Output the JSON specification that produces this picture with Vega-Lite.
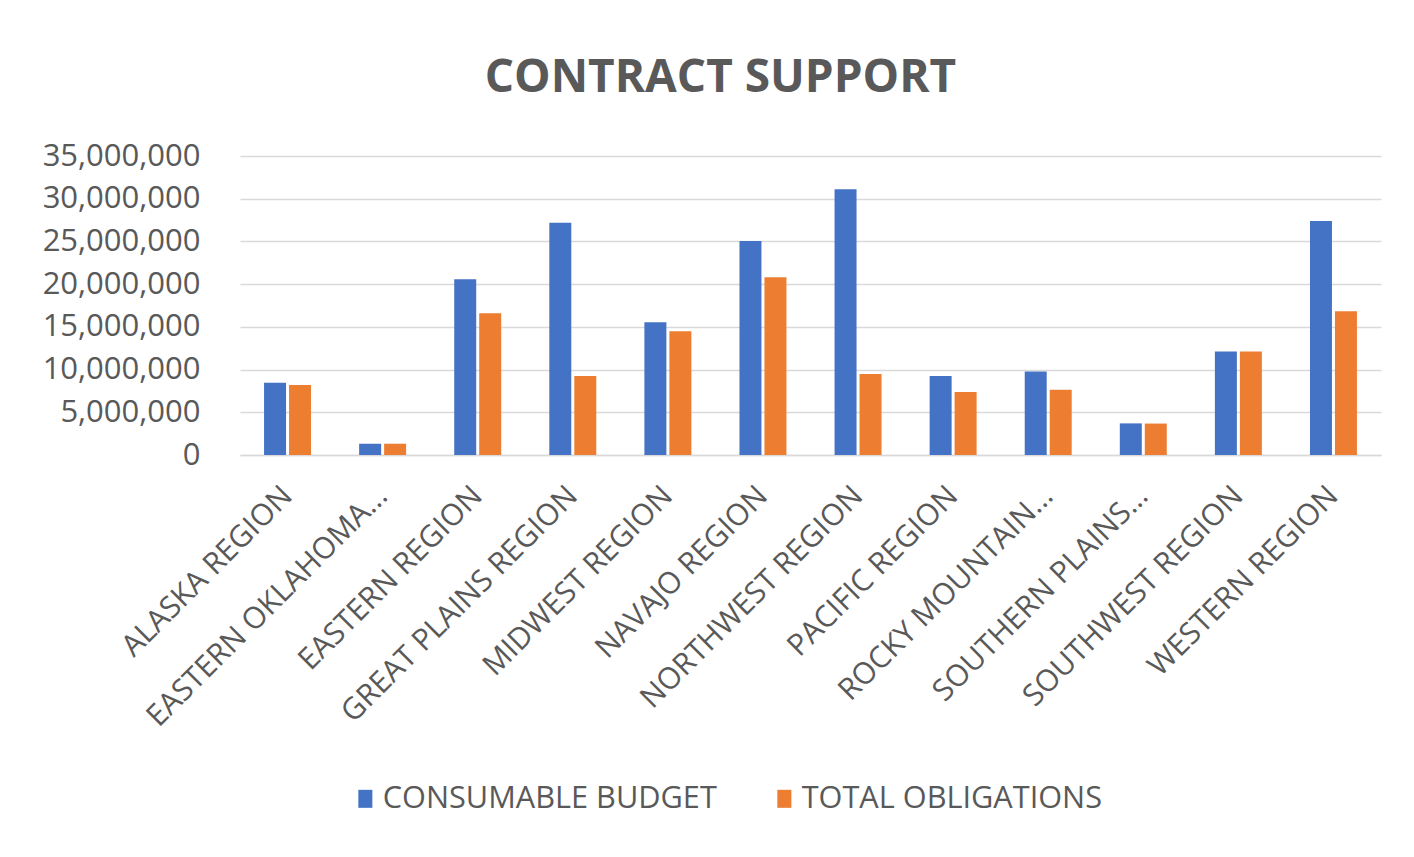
{
  "$schema": "https://vega.github.io/schema/vega-lite/v6.json",
  "width": 1141,
  "height": 299,
  "autosize": "none",
  "padding": {"left": 240, "top": 156, "right": 33, "bottom": 402},
  "background": "#ffffff",
  "title": {
    "text": "CONTRACT SUPPORT",
    "font": "Open Sans",
    "fontSize": 46,
    "fontWeight": "bold",
    "color": "#595959",
    "anchor": "middle",
    "frame": "group",
    "dx": -90,
    "baseline": "alphabetic",
    "offset": 2
  },
  "data": {
    "values": [
      {"region": "ALASKA REGION", "series": "CONSUMABLE BUDGET", "value": 8460000},
      {"region": "ALASKA REGION", "series": "TOTAL OBLIGATIONS", "value": 8180000},
      {"region": "EASTERN OKLAHOMA...", "series": "CONSUMABLE BUDGET", "value": 1330000},
      {"region": "EASTERN OKLAHOMA...", "series": "TOTAL OBLIGATIONS", "value": 1320000},
      {"region": "EASTERN REGION", "series": "CONSUMABLE BUDGET", "value": 20580000},
      {"region": "EASTERN REGION", "series": "TOTAL OBLIGATIONS", "value": 16600000},
      {"region": "GREAT PLAINS REGION", "series": "CONSUMABLE BUDGET", "value": 27200000},
      {"region": "GREAT PLAINS REGION", "series": "TOTAL OBLIGATIONS", "value": 9240000},
      {"region": "MIDWEST REGION", "series": "CONSUMABLE BUDGET", "value": 15550000},
      {"region": "MIDWEST REGION", "series": "TOTAL OBLIGATIONS", "value": 14500000},
      {"region": "NAVAJO REGION", "series": "CONSUMABLE BUDGET", "value": 25060000},
      {"region": "NAVAJO REGION", "series": "TOTAL OBLIGATIONS", "value": 20810000},
      {"region": "NORTHWEST REGION", "series": "CONSUMABLE BUDGET", "value": 31100000},
      {"region": "NORTHWEST REGION", "series": "TOTAL OBLIGATIONS", "value": 9470000},
      {"region": "PACIFIC REGION", "series": "CONSUMABLE BUDGET", "value": 9240000},
      {"region": "PACIFIC REGION", "series": "TOTAL OBLIGATIONS", "value": 7370000},
      {"region": "ROCKY MOUNTAIN...", "series": "CONSUMABLE BUDGET", "value": 9780000},
      {"region": "ROCKY MOUNTAIN...", "series": "TOTAL OBLIGATIONS", "value": 7640000},
      {"region": "SOUTHERN PLAINS...", "series": "CONSUMABLE BUDGET", "value": 3700000},
      {"region": "SOUTHERN PLAINS...", "series": "TOTAL OBLIGATIONS", "value": 3680000},
      {"region": "SOUTHWEST REGION", "series": "CONSUMABLE BUDGET", "value": 12120000},
      {"region": "SOUTHWEST REGION", "series": "TOTAL OBLIGATIONS", "value": 12110000},
      {"region": "WESTERN REGION", "series": "CONSUMABLE BUDGET", "value": 27400000},
      {"region": "WESTERN REGION", "series": "TOTAL OBLIGATIONS", "value": 16840000}
    ]
  },
  "mark": {"type": "bar"},
  "encoding": {
    "x": {
      "field": "region",
      "type": "nominal",
      "sort": null,
      "title": null,
      "scale": {"paddingInner": 0.506, "paddingOuter": 0.253},
      "axis": {
        "labelAngle": -45,
        "labelAlign": "right",
        "labelBaseline": "middle",
        "labelFont": "Open Sans",
        "labelFontSize": 30,
        "labelColor": "#595959",
        "labelPadding": 36,
        "labelLimit": 500,
        "ticks": false,
        "domain": true,
        "domainColor": "#D9D9D9",
        "domainWidth": 1.5,
        "grid": false
      }
    },
    "xOffset": {
      "field": "series",
      "type": "nominal",
      "sort": ["CONSUMABLE BUDGET", "TOTAL OBLIGATIONS"],
      "scale": {"paddingInner": 0.12, "paddingOuter": 0}
    },
    "y": {
      "field": "value",
      "type": "quantitative",
      "title": null,
      "scale": {"domain": [0, 35000000], "nice": false},
      "axis": {
        "values": [0, 5000000, 10000000, 15000000, 20000000, 25000000, 30000000, 35000000],
        "format": ",d",
        "labelFont": "Open Sans",
        "labelFontSize": 31,
        "labelColor": "#595959",
        "labelPadding": 40,
        "ticks": false,
        "domain": false,
        "grid": true,
        "gridColor": "#D9D9D9",
        "gridWidth": 1.5
      }
    },
    "color": {
      "field": "series",
      "type": "nominal",
      "sort": ["CONSUMABLE BUDGET", "TOTAL OBLIGATIONS"],
      "scale": {"domain": ["CONSUMABLE BUDGET", "TOTAL OBLIGATIONS"], "range": ["#4472C4", "#ED7D31"]},
      "legend": {
        "title": null,
        "orient": "none",
        "direction": "horizontal",
        "legendX": 110,
        "legendY": 627,
        "symbolType": "M-0.78,-1H0.78V1H-0.78Z",
        "symbolSize": 324,
        "symbolStrokeWidth": 0,
        "labelFont": "Open Sans",
        "labelFontSize": 30.7,
        "labelColor": "#595959",
        "labelOffset": 2,
        "labelLimit": 600,
        "columnPadding": 52
      }
    }
  },
  "config": {
    "view": {"stroke": null}
  }
}
